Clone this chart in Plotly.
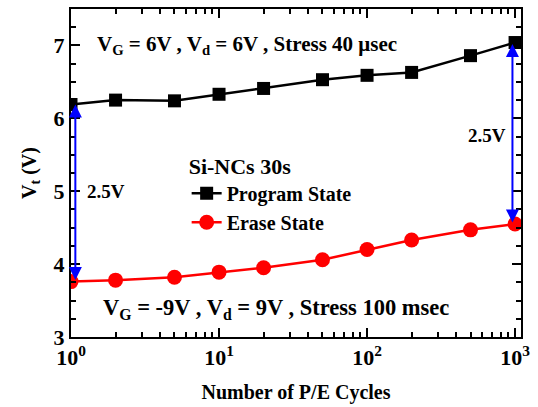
import plotly.graph_objects as go
import numpy as np

cycles = [1, 2, 5, 10, 20, 50, 100, 200, 500, 1000]
program_vt = [6.19, 6.25, 6.24, 6.33, 6.41, 6.53, 6.59, 6.63, 6.86, 7.04]
erase_vt = [3.76, 3.78, 3.82, 3.89, 3.95, 4.06, 4.20, 4.33, 4.47, 4.55]
x_tickvals = [1, 10, 100, 1000]
x_ticktext = ["10<sup>0</sup>", "10<sup>1</sup>", "10<sup>2</sup>", "10<sup>3</sup>"]
y_tickvals = [3, 4, 5, 6, 7]

FONT = "Liberation Serif, Times New Roman, Times, serif"

fig = go.Figure()
fig.add_trace(go.Scatter(x=cycles, y=program_vt, mode="lines+markers", name="<b>Program State</b>",
                         line=dict(color="black", width=2.5),
                         marker=dict(symbol="square", size=13, color="black")))
fig.add_trace(go.Scatter(x=cycles, y=erase_vt, mode="lines+markers", name="<b>Erase State</b>",
                         line=dict(color="#ff0000", width=2.5),
                         marker=dict(symbol="circle", size=15, color="#ff0000")))

minor_x = [m * d for d in [1, 10, 100] for m in range(2, 10)]

fig.update_xaxes(type="log", range=[0, np.log10(1000) + 0.04],
                 tickvals=x_tickvals, ticktext=x_ticktext,
                 ticks="inside", ticklen=9, tickwidth=2, tickcolor="black",
                 showline=True, linecolor="black", linewidth=2, mirror="allticks",
                 showgrid=False, zeroline=False,
                 minor=dict(tickvals=minor_x, ticks="inside", ticklen=5, tickwidth=1.5, tickcolor="black", showgrid=False),
                 tickfont=dict(family=FONT, size=22, color="black", weight="bold"),
                 title=dict(text="<b>Number of P/E Cycles</b>", font=dict(family=FONT, size=20, color="black"), standoff=16))
fig.update_yaxes(range=[3, 7.5], tickvals=y_tickvals,
                 ticks="inside", ticklen=9, tickwidth=2, tickcolor="black",
                 showline=True, linecolor="black", linewidth=2, mirror="allticks",
                 showgrid=False, zeroline=False,
                 minor=dict(dtick=0.25, ticks="inside", ticklen=5, tickwidth=1.5, tickcolor="black", showgrid=False),
                 tickfont=dict(family=FONT, size=22, color="black", weight="bold"),
                 title=dict(text="<b>V<sub>t</sub> (V)</b>", font=dict(family=FONT, size=20, color="black"), standoff=12))

# double arrows
arrows = [
    (np.log10(1.07), 6.19, 3.76),
    (np.log10(960), 7.02, 4.55),
]
for xa, y1, y2 in arrows:
    fig.add_annotation(x=xa, y=y1, ax=xa, ay=y2, xref="x", yref="y", axref="x", ayref="y",
                       showarrow=True, arrowhead=2, arrowside="end+start", arrowsize=1.3,
                       arrowwidth=2, arrowcolor="#0000ff", text="")

texts = [
    (np.log10(1.45), 7.0, "<b>V<sub>G</sub> = 6V , V<sub>d</sub> = 6V , Stress 40 μsec</b>", "left", 21),
    (np.log10(1.25), 5.0, "<b>2.5V</b>", "left", 19),
    (np.log10(890), 5.77, "<b>2.5V</b>", "right", 19),
    (np.log10(1.6), 3.39, "<b>V<sub>G</sub> = -9V , V<sub>d</sub> = 9V , Stress 100 msec</b>", "left", 22.5),
]
for xt, yt, t, anc, fs in texts:
    fig.add_annotation(x=xt, y=yt, xref="x", yref="y", text=t, showarrow=False,
                       xanchor=anc, yanchor="middle",
                       font=dict(family=FONT, size=fs, color="black"))

fig.update_layout(
    width=538, height=407,
    margin=dict(l=71, r=17, t=7, b=68),
    paper_bgcolor="white", plot_bgcolor="white",
    font=dict(family=FONT, color="black"),
    showlegend=True,
    legend=dict(x=0.257, y=0.585, xanchor="left", yanchor="top",
                bgcolor="rgba(0,0,0,0)", tracegroupgap=0, itemwidth=30,
                title=dict(text="<b>Si-NCs 30s</b>", side="top", font=dict(family=FONT, size=22, color="black")),
                font=dict(family=FONT, size=20, color="black")),
)

fig.write_html("out.html")
